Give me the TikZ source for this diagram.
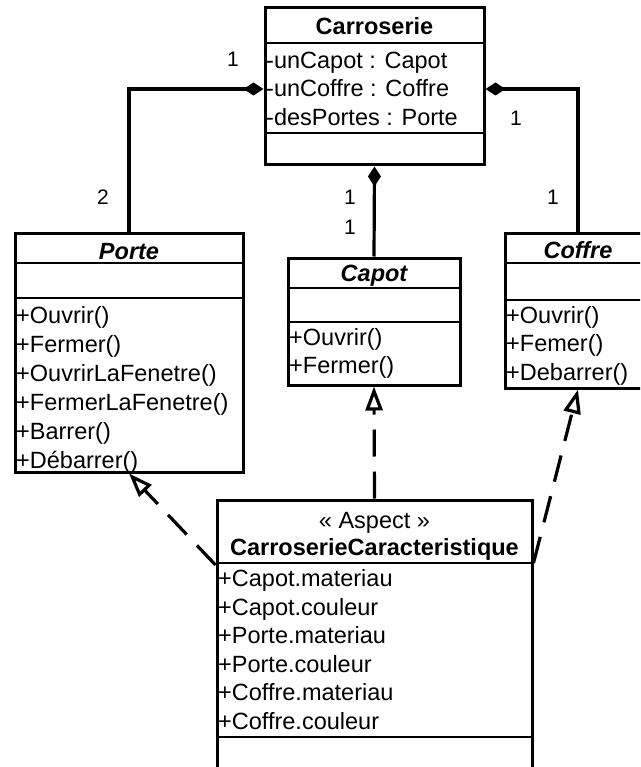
\documentclass[tikz,border=0pt]{standalone}
\usepackage{fontspec}
\setmainfont{Liberation Sans}
\usetikzlibrary{arrows.meta}
\begin{document}
\begin{tikzpicture}[x=1pt,y=-1pt,
  classbox/.style={draw, line width=3pt, fill=white, inner sep=0pt},
  divider/.style={line width=2.6pt},
  member/.style={anchor=west, inner sep=0pt, text height=17pt, text depth=0pt,
    font=\fontsize{23.5}{28}\selectfont},
  classname/.style={inner sep=0pt, text height=17pt, text depth=0pt,
    font=\fontsize{23.5}{28}\selectfont\bfseries},
  abstractname/.style={inner sep=0pt, text height=17pt, text depth=0pt,
    font=\fontsize{23.5}{28}\selectfont\bfseries\itshape},
  stereo/.style={inner sep=0pt, text height=17pt, text depth=0pt,
    font=\fontsize{23.5}{28}\selectfont},
  mult/.style={inner sep=0pt, font=\fontsize{21}{24}\selectfont},
  composition/.style={line width=3.2pt, {Diamond[length=20pt,width=13pt]}-},
  realization/.style={line width=3.2pt, dash pattern=on 27pt off 15pt,
    -{Triangle[open,length=24pt,width=17pt]}},
]
\useasboundingbox (0,0) rectangle (640,767);
\clip (0,0) rectangle (640,767);
\fill[white] (0,0) rectangle (640,767);

% ---------- class boxes ----------
\node[classbox, minimum width=219pt, minimum height=157pt] (carro) at (374.5,86.5) {};
\node[classbox, minimum width=228pt, minimum height=239pt] (porte) at (129,352.5) {};
\node[classbox, minimum width=172pt, minimum height=127pt] (capot) at (374,321.5) {};
\node[classbox, minimum width=146pt, minimum height=155pt] (coffre) at (578,310.5) {};
\node[classbox, minimum width=315pt, minimum height=320pt] (aspect) at (374.5,660) {};

% ---------- Carroserie ----------
\node[classname] (carroT) at (374.5,26) {Carroserie};
\draw[divider] (carro.west |- 0,43) -- (carro.east |- 0,43);
\node[member] (carroA1) at (266,60) {-unCapot : Capot};
\node[member] (carroA2) at (266,88) {-unCoffre : Coffre};
\node[member] (carroA3) at (266,117) {-desPortes : Porte};
\draw[divider] (carro.west |- 0,133) -- (carro.east |- 0,133);

% ---------- Porte ----------
\node[abstractname] (porteT) at (129,251) {Porte};
\draw[divider] (porte.west |- 0,263) -- (porte.east |- 0,263);
\draw[divider] (porte.west |- 0,298) -- (porte.east |- 0,298);
\node[member] (porteM1) at (16,315) {+Ouvrir()};
\node[member] (porteM2) at (16,344) {+Fermer()};
\node[member] (porteM3) at (16,373) {+OuvrirLaFenetre()};
\node[member] (porteM4) at (16,402) {+FermerLaFenetre()};
\node[member] (porteM5) at (16,431) {+Barrer()};
\node[member] (porteM6) at (16,460) {+Débarrer()};

% ---------- Capot ----------
\node[abstractname] (capotT) at (374,273) {Capot};
\draw[divider] (capot.west |- 0,288) -- (capot.east |- 0,288);
\draw[divider] (capot.west |- 0,322) -- (capot.east |- 0,322);
\node[member] (capotM1) at (289,337) {+Ouvrir()};
\node[member] (capotM2) at (289,365) {+Fermer()};

% ---------- Coffre ----------
\node[abstractname] (coffreT) at (578,250) {Coffre};
\draw[divider] (coffre.west |- 0,263) -- (coffre.east |- 0,263);
\draw[divider] (coffre.west |- 0,300) -- (coffre.east |- 0,300);
\node[member] (coffreM1) at (506,315) {+Ouvrir()};
\node[member] (coffreM2) at (506,343) {+Femer()};
\node[member] (coffreM3) at (506,372) {+Debarrer()};

% ---------- CarroserieCaracteristique ----------
\node[stereo] (aspectS) at (374.5,520) {« Aspect »};
\node[classname] (aspectT) at (374.5,547) {CarroserieCaracteristique};
\draw[divider] (aspect.west |- 0,563) -- (aspect.east |- 0,563);
\node[member] (aspectA1) at (218,578) {+Capot.materiau};
\node[member] (aspectA2) at (218,607) {+Capot.couleur};
\node[member] (aspectA3) at (218,635) {+Porte.materiau};
\node[member] (aspectA4) at (218,664) {+Porte.couleur};
\node[member] (aspectA5) at (218,692) {+Coffre.materiau};
\node[member] (aspectA6) at (218,721) {+Coffre.couleur};
\draw[divider] (aspect.west |- 0,737) -- (aspect.east |- 0,737);

% ---------- compositions ----------
\draw[composition] (carro.west |- 0,89) -| (porte.north);
\draw[composition] (carro.east |- 0,89) -| (coffre.north);
\draw[composition] (carro.south) -- (capot.north);

\node[mult] (m1) at (233,59) {1};
\node[mult] (m2) at (103,197) {2};
\node[mult] (m3) at (516,118) {1};
\node[mult] (m4) at (553,197) {1};
\node[mult] (m5) at (350,197) {1};
\node[mult] (m6) at (350,227) {1};

% ---------- realizations ----------
\draw[realization] (aspect.north) -- (capot.south);
\draw[realization] (aspect.east |- 0,563) -- (coffre.south);
\draw[realization] (aspect.west |- 0,565) -- (porte.south);
\end{tikzpicture}
\end{document}
